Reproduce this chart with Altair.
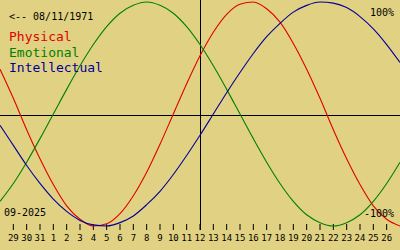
import altair as alt
import pandas as pd

# day index 0 = Aug 28, 15 = Sep 12 (today), 30 = Sep 27
physical = [0.40, 0.14, -0.14, -0.40, -0.63, -0.82, -0.94, -1.00, -0.98, -0.89,
            -0.73, -0.52, -0.27, 0.00, 0.27, 0.52, 0.73, 0.89, 0.98, 1.00,
            0.94, 0.82, 0.63, 0.40, 0.14, -0.14, -0.40, -0.63, -0.82, -0.94, -1.00]
emotional = [-0.78, -0.62, -0.43, -0.22, 0.00, 0.22, 0.43, 0.62, 0.78, 0.90,
             0.97, 1.00, 0.97, 0.90, 0.78, 0.62, 0.43, 0.22, 0.00, -0.22,
             -0.43, -0.62, -0.78, -0.90, -0.97, -1.00, -0.97, -0.90, -0.78, -0.62, -0.43]
intellectual = [-0.10, -0.28, -0.46, -0.62, -0.76, -0.87, -0.95, -0.99, -1.00, -0.97,
                -0.91, -0.81, -0.69, -0.54, -0.37, -0.19, 0.00, 0.19, 0.37, 0.54,
                0.69, 0.81, 0.91, 0.97, 1.00, 0.99, 0.95, 0.87, 0.76, 0.62, 0.46]
day_labels = ["29", "30", "31", "1", "2", "3", "4", "5", "6", "7", "8", "9", "10",
              "11", "12", "13", "14", "15", "16", "17", "18", "19", "20", "21",
              "22", "23", "24", "25", "26"]
today_index = 15
series_names = ["Physical", "Emotional", "Intellectual"]
series_colors = ["#E00000", "#008000", "#000099"]

rows = []
for name, vals in zip(series_names, [physical, emotional, intellectual]):
    for i, v in enumerate(vals):
        rows.append({"d": i, "v": v, "s": name})
df = pd.DataFrame(rows)
ticks = pd.DataFrame({"d": list(range(1, len(day_labels) + 1)), "lab": day_labels})

MONO = "DejaVu Sans Mono"
xs = alt.Scale(domain=[0, 30], nice=False, zero=False)
ys = alt.Scale(domain=[-1.2143, 1.0179], nice=False, zero=False)

lines = alt.Chart(df).mark_line(strokeWidth=1.1, interpolate="monotone").encode(
    x=alt.X("d:Q", scale=xs, axis=None),
    y=alt.Y("v:Q", scale=ys, axis=None),
    color=alt.Color("s:N", scale=alt.Scale(domain=series_names, range=series_colors), legend=None),
    detail="s:N",
)

hrule = alt.Chart(pd.DataFrame({"v": [0]})).mark_rule(color="black", strokeWidth=1, yOffset=1.5).encode(
    y=alt.Y("v:Q", scale=ys, axis=None), x=alt.value(0), x2=alt.value(400)
)

tick_rules = alt.Chart(ticks).mark_rule(color="black", strokeWidth=1).encode(
    x=alt.X("d:Q", scale=xs, axis=None), y=alt.value(224), y2=alt.value(230)
)

today_rule = alt.Chart(pd.DataFrame({"d": [today_index]})).mark_rule(color="black", strokeWidth=1, xOffset=0.5).encode(
    x=alt.X("d:Q", scale=xs, axis=None), y=alt.value(0), y2=alt.value(230)
)

tick_text = alt.Chart(ticks).mark_text(font=MONO, fontSize=9, color="black", baseline="alphabetic").encode(
    x=alt.X("d:Q", scale=xs, axis=None), y=alt.value(241), text="lab:N"
)

def label(txt, x, y, size, color, align="left"):
    return alt.Chart(pd.DataFrame({"t": [txt]})).mark_text(
        font=MONO, fontSize=size, color=color, align=align, baseline="alphabetic"
    ).encode(x=alt.value(x), y=alt.value(y), text="t:N")

texts = [
    label("<-- 08/11/1971", 9, 20, 10, "black"),
    label("Physical", 9, 41, 13, series_colors[0]),
    label("Emotional", 9, 57, 13, series_colors[1]),
    label("Intellectual", 9, 72, 13, series_colors[2]),
    label("100%", 394, 16, 10, "black", "right"),
    label("-100%", 394, 217, 10, "black", "right"),
    label("09-2025", 4, 216, 10, "black"),
]

chart = alt.layer(hrule, tick_rules, today_rule, lines, tick_text, *texts).properties(
    width=400, height=250, autosize=alt.AutoSizeParams(type="none"), padding=0,
    background="#E1D283",
).configure_view(stroke=None)

chart.save("out.html", embed_options={"renderer": "svg", "actions": False})
